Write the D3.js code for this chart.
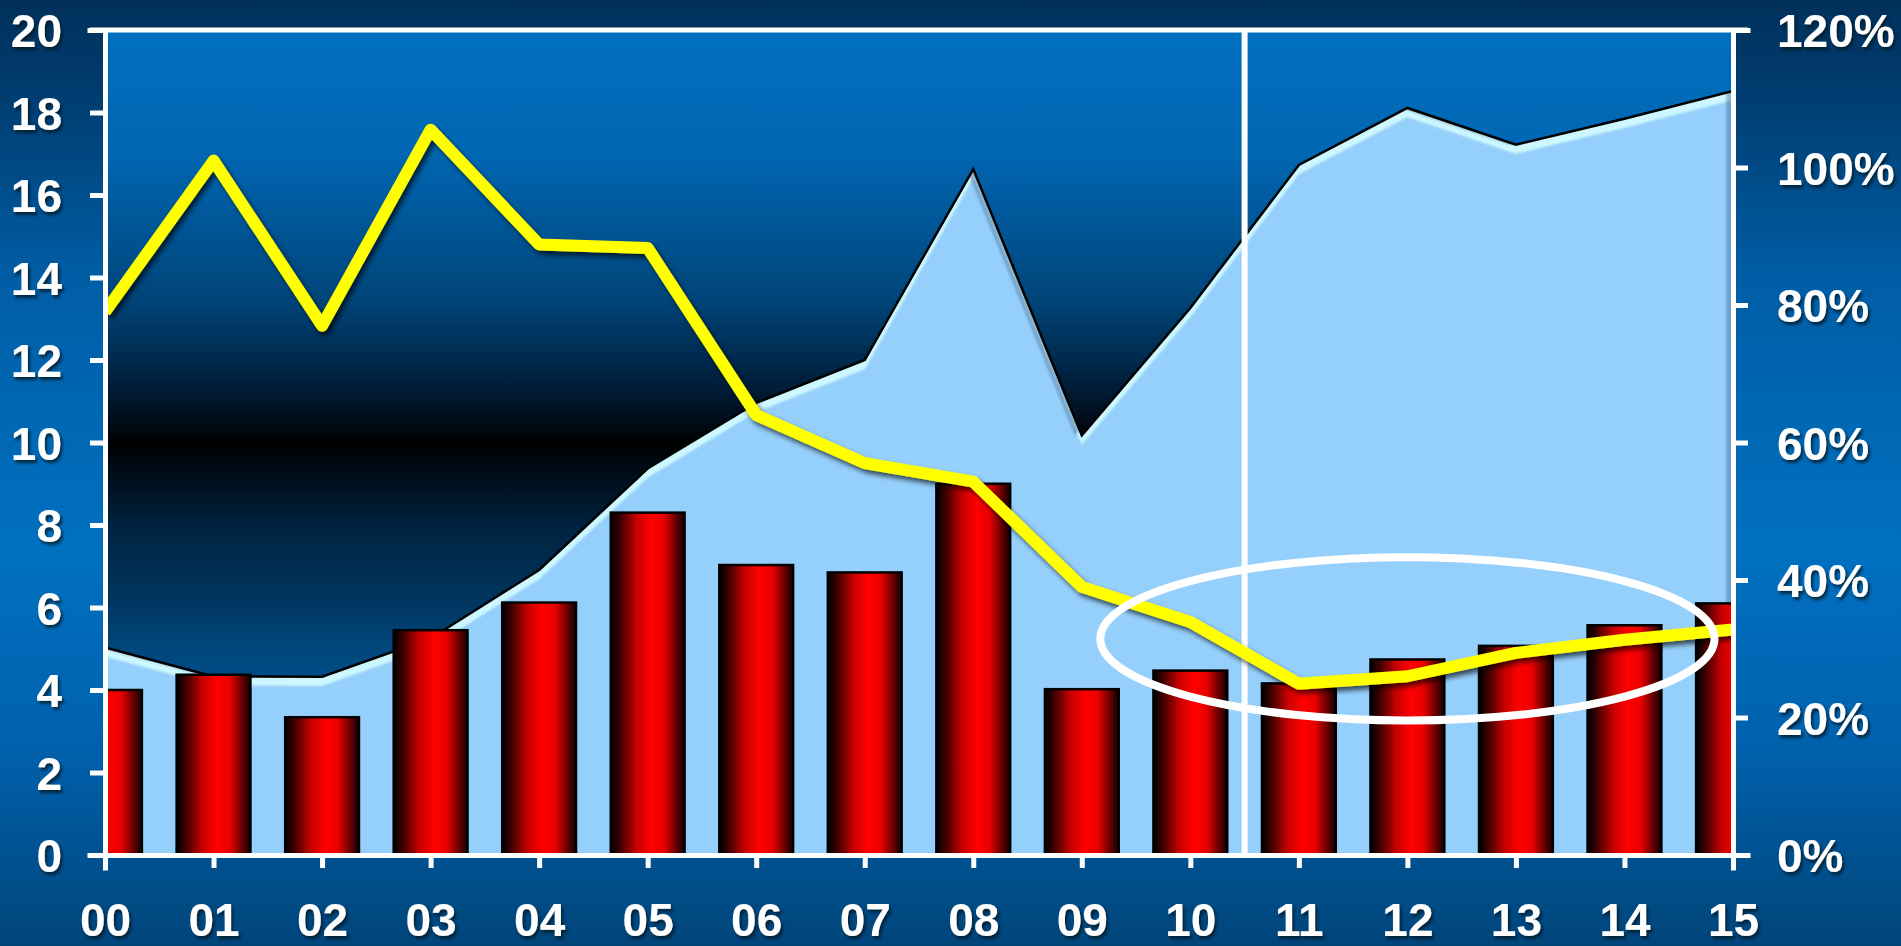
<!DOCTYPE html>
<html>
<head>
<meta charset="utf-8">
<script src="https://cdn.jsdelivr.net/npm/d3@7"></script>
<style>
  html, body { margin: 0; padding: 0; background: #00305a; }
  svg { display: block; }
  .tick text { font-family: "Liberation Sans", Arial, sans-serif; font-weight: bold; font-size: 46px; fill: #ffffff; }
</style>
</head>
<body>
<svg id="chart" width="1901" height="946"></svg>
<script>
// Years shown on the category axis
const categories = ["00","01","02","03","04","05","06","07","08","09","10","11","12","13","14","15"];
// Red columns (left axis)
const barValues = [4.0, 4.37, 3.34, 5.45, 6.12, 8.30, 7.03, 6.85, 9.0, 4.02, 4.47, 4.16, 4.74, 5.07, 5.57, 6.10];
// Light blue area (left axis)
const areaValues = [5.03, 4.33, 4.32, 5.25, 6.91, 9.37, 10.96, 12.0, 16.63, 10.17, 13.26, 16.73, 18.11, 17.22, 17.85, 18.52];
// Yellow line (right axis, share)
const ratioValues = [0.79, 1.01, 0.77, 1.055, 0.888, 0.883, 0.64, 0.57, 0.543, 0.39, 0.339, 0.249, 0.26, 0.294, 0.313, 0.328];
// Axis tick values
const leftTicks = [0, 2, 4, 6, 8, 10, 12, 14, 16, 18, 20];
const rightTicks = [0, 0.2, 0.4, 0.6, 0.8, 1.0, 1.2];
// Divider between the two periods, placed after this category
const dividerAfter = "10";
// Highlight ring around the recent years: centre category/value, radii in steps and value units
const ringCenter = { cat: "12", value: 5.24 };
const ringRadius = { steps: 2.83, value: 1.98 };

const W = 1901, H = 946;
const plot = { left: 105, right: 1733, top: 30, bottom: 855 };

const svg = d3.select("#chart");
const defs = svg.append("defs");

// Page background
const bg = defs.append("linearGradient").attr("id", "pageBg").attr("x1", 0).attr("y1", 0).attr("x2", 0).attr("y2", 1);
[[0, "#00305a"], [0.1, "#003d70"], [0.3, "#005ea6"], [0.58, "#0070c0"], [0.78, "#0062ae"], [1, "#00457a"]]
  .forEach(([o, c]) => bg.append("stop").attr("offset", o).attr("stop-color", c));

// Plot area background: blue fading into a black band at mid height
const pbg = defs.append("linearGradient").attr("id", "plotBg").attr("x1", 0).attr("y1", 0).attr("x2", 0).attr("y2", 1);
[[0, "#0070c0"], [0.15, "#0066b2"], [0.33, "#004478"], [0.44, "#001a33"], [0.49, "#00060c"], [0.503, "#000000"],
 [0.52, "#00070e"], [0.6, "#00223f"], [0.69, "#00355f"], [0.75, "#00477c"], [0.88, "#005da4"], [1, "#0068b6"]]
  .forEach(([o, c]) => pbg.append("stop").attr("offset", o).attr("stop-color", c));

// Cylinder-like shading for the columns
const barGrad = defs.append("linearGradient").attr("id", "barGrad").attr("x1", 0).attr("y1", 0).attr("x2", 1).attr("y2", 0);
[[0, "#000000"], [0.12, "#3a0000"], [0.35, "#c80000"], [0.55, "#ff0000"], [0.72, "#e80000"], [0.88, "#6a0000"], [1, "#100000"]]
  .forEach(([o, c]) => barGrad.append("stop").attr("offset", o).attr("stop-color", c));

// Bevel for the area: light band along the top, shade along right-facing edges
const bevel = defs.append("filter").attr("id", "bevel").attr("x", "-2%").attr("y", "-2%").attr("width", "104%").attr("height", "104%");
bevel.append("feGaussianBlur").attr("in", "SourceAlpha").attr("stdDeviation", 1.2).attr("result", "b");
bevel.append("feOffset").attr("in", "b").attr("dx", 0).attr("dy", 9).attr("result", "bDown");
bevel.append("feComposite").attr("in", "SourceAlpha").attr("in2", "bDown").attr("operator", "out").attr("result", "hiMask");
bevel.append("feFlood").attr("flood-color", "#cdf8ff").attr("result", "hiCol");
bevel.append("feComposite").attr("in", "hiCol").attr("in2", "hiMask").attr("operator", "in").attr("result", "hi");
bevel.append("feOffset").attr("in", "b").attr("dx", -7).attr("dy", 0).attr("result", "bLeft");
bevel.append("feComposite").attr("in", "SourceAlpha").attr("in2", "bLeft").attr("operator", "out").attr("result", "shMask");
bevel.append("feFlood").attr("flood-color", "#4a77a6").attr("flood-opacity", 0.6).attr("result", "shCol");
bevel.append("feComposite").attr("in", "shCol").attr("in2", "shMask").attr("operator", "in").attr("result", "sh");
const bm = bevel.append("feMerge");
bm.append("feMergeNode").attr("in", "SourceGraphic");
bm.append("feMergeNode").attr("in", "hi");
bm.append("feMergeNode").attr("in", "sh");

// Drop shadows
const lineShadow = defs.append("filter").attr("id", "lineShadow").attr("x", "-5%").attr("y", "-10%").attr("width", "110%").attr("height", "130%");
lineShadow.append("feDropShadow").attr("dx", 3).attr("dy", 4).attr("stdDeviation", 2.5)
  .attr("flood-color", "#000000").attr("flood-opacity", 0.65);
const textShadow = defs.append("filter").attr("id", "textShadow").attr("x", "-10%").attr("y", "-10%").attr("width", "130%").attr("height", "140%");
textShadow.append("feDropShadow").attr("dx", 2).attr("dy", 3).attr("stdDeviation", 1.6)
  .attr("flood-color", "#001226").attr("flood-opacity", 0.8);

defs.append("clipPath").attr("id", "plotClip").append("rect")
  .attr("x", plot.left).attr("y", plot.top).attr("width", plot.right - plot.left).attr("height", plot.bottom - plot.top);

// Scales
const x = d3.scalePoint().domain(categories).range([plot.left, plot.right]);
const y = d3.scaleLinear().domain([0, 20]).range([plot.bottom, plot.top]);
const yR = d3.scaleLinear().domain([0, 1.2]).range([plot.bottom, plot.top]);

svg.append("rect").attr("width", W).attr("height", H).attr("fill", "url(#pageBg)");
svg.append("rect").attr("x", plot.left).attr("y", plot.top)
  .attr("width", plot.right - plot.left).attr("height", plot.bottom - plot.top).attr("fill", "url(#plotBg)");

const body = svg.append("g").attr("clip-path", "url(#plotClip)");

// Area
const areaGen = d3.area().x((d, i) => x(categories[i])).y0(y(0)).y1(d => y(d));
body.append("path").datum(areaValues).attr("d", areaGen).attr("fill", "#95cffb").attr("filter", "url(#bevel)");
const edgeGen = d3.line().x((d, i) => x(categories[i])).y(d => y(d));
body.append("path").datum(areaValues).attr("d", edgeGen)
  .attr("fill", "none").attr("stroke", "#000").attr("stroke-width", 2.5).attr("stroke-linejoin", "miter");

// Columns
const bw = x.step() * 0.68;
body.selectAll("rect.bar").data(barValues).join("rect").attr("class", "bar")
  .attr("x", (d, i) => x(categories[i]) - bw / 2)
  .attr("y", d => y(d))
  .attr("width", bw)
  .attr("height", d => y(0) - y(d))
  .attr("fill", "url(#barGrad)")
  .attr("stroke", "#000").attr("stroke-width", 2.5);

// Period divider
const xDiv = (x(dividerAfter) + x(categories[categories.indexOf(dividerAfter) + 1])) / 2;
svg.append("line").attr("x1", xDiv).attr("x2", xDiv).attr("y1", plot.top).attr("y2", plot.bottom)
  .attr("stroke", "#fff").attr("stroke-width", 6);

// Share line
const lineGen = d3.line().x((d, i) => x(categories[i])).y(d => yR(d));
svg.append("g").attr("clip-path", "url(#plotClip)").append("path").datum(ratioValues).attr("d", lineGen)
  .attr("fill", "none").attr("stroke", "#ffff00").attr("stroke-width", 12)
  .attr("stroke-linejoin", "round").attr("filter", "url(#lineShadow)");

// Axes
function styleAxis(g) {
  g.selectAll("path.domain").attr("stroke", "#fff").attr("stroke-width", 5).attr("fill", "none").attr("stroke-linecap", "square");
  g.selectAll(".tick line").attr("stroke", "#fff").attr("stroke-width", 5);
  g.selectAll(".tick text").attr("filter", "url(#textShadow)");
}
svg.append("g").attr("transform", `translate(${plot.left},0)`)
  .call(d3.axisLeft(y).tickValues(leftTicks).tickSize(15).tickPadding(28).tickFormat(d3.format("d")))
  .call(styleAxis)
  .call(g => g.selectAll(".tick text").attr("dy", "0.36em"));
svg.append("g").attr("transform", `translate(${plot.right},0)`)
  .call(d3.axisRight(yR).tickValues(rightTicks).tickSize(15).tickPadding(29).tickFormat(d3.format(".0%")))
  .call(styleAxis)
  .call(g => g.selectAll(".tick text").attr("dy", "0.36em"));
svg.append("g").attr("transform", `translate(0,${plot.bottom})`)
  .call(d3.axisBottom(x).tickSize(13).tickPadding(35))
  .call(styleAxis);
// Top frame line
svg.append("line").attr("x1", plot.left - 15).attr("x2", plot.right + 15).attr("y1", plot.top).attr("y2", plot.top)
  .attr("stroke", "#fff").attr("stroke-width", 5);

// Highlight ring
svg.append("ellipse")
  .attr("cx", x(ringCenter.cat)).attr("cy", y(ringCenter.value))
  .attr("rx", x.step() * ringRadius.steps).attr("ry", y(0) - y(ringRadius.value))
  .attr("fill", "none").attr("stroke", "#fff").attr("stroke-width", 8);
</script>
</body>
</html>
